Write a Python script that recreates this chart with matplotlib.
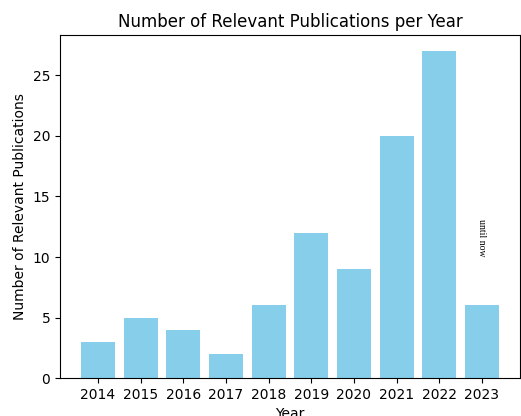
import matplotlib.pyplot as plt

years = [2014, 2015, 2016, 2017, 2018, 2019, 2020, 2021, 2022, 2023]
counts = [3, 5, 4, 2, 6, 12, 9, 20, 27, 6]

fig = plt.figure(figsize=(5.21, 4.16), dpi=100)
ax = fig.add_axes([0.1152, 0.0913, 0.8828, 0.8247])

ax.bar(years, counts, color='skyblue')
ax.set_xticks(years)
ax.set_xlabel('Year')
ax.set_ylabel('Number of Relevant Publications')
ax.set_title('Number of Relevant Publications per Year')

# note on the current (incomplete) year
ax.text(2023, 11.6, 'until now', rotation=270, ha='center', va='center',
        fontsize=7, family='Liberation Serif')

fig.savefig('out.png', dpi=100)
